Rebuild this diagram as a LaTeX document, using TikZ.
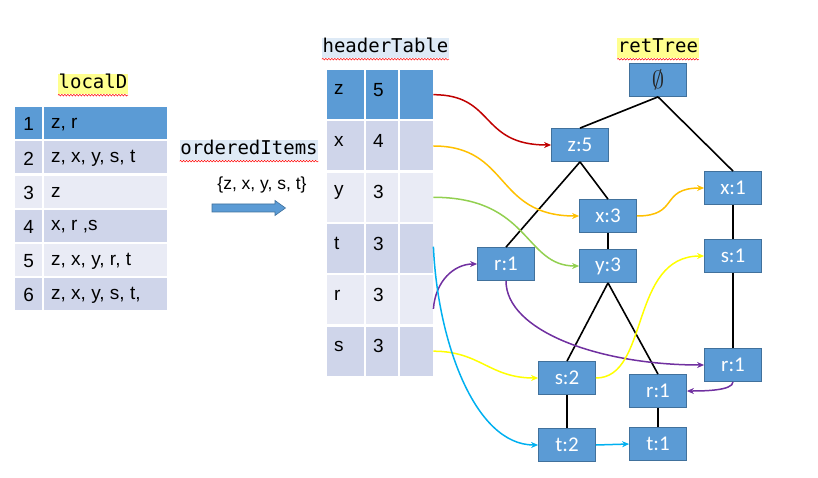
\documentclass[tikz,border=0pt]{standalone}
\usepackage{fontspec}
\setmainfont{Liberation Sans}
\newfontfamily\nodefont{Carlito}
\newfontfamily\monofont{DejaVu Sans Mono}
\usetikzlibrary{arrows.meta,calc,decorations.pathmorphing}
\definecolor{accent}{HTML}{5B9BD5}
\definecolor{bordr}{HTML}{41719C}
\definecolor{banddark}{HTML}{CFD5EA}
\definecolor{bandlight}{HTML}{E9EBF5}
\definecolor{hlyellow}{HTML}{FFFF8F}
\definecolor{hlblue}{HTML}{DEEAF6}
\definecolor{cred}{HTML}{C00000}
\definecolor{corange}{HTML}{FFC000}
\definecolor{cgreen}{HTML}{92D050}
\definecolor{cpurple}{HTML}{7030A0}
\definecolor{cyellow}{HTML}{FFFF00}
\definecolor{cblue}{HTML}{00B0F0}
\tikzset{
  tnode/.style={draw=bordr, fill=accent, minimum width=57pt, minimum height=33pt, inner sep=0pt,
    text=white, font=\nodefont\fontsize{21}{23}\selectfont, line width=0.8pt},
  cellbox/.style={anchor=north west, inner sep=0pt, draw=none},
  celltext/.style={font=\fontsize{19}{21}\selectfont, inner sep=0pt, text=black},
  lbl/.style={font=\monofont\fontsize{19}{21}\selectfont, inner xsep=0.5pt, inner ysep=0pt,
    text height=15pt, text depth=5pt},
  wavy/.style={draw=red, line width=0.5pt, decorate, decoration={snake, amplitude=0.8pt, segment length=3pt}},
  treeline/.style={line width=1.6pt, black},
  carrow/.style={line width=1.5pt, -{Stealth[length=7pt,width=6pt]}},
}
\begin{document}
\begin{tikzpicture}[x=1pt,y=-1pt]
\useasboundingbox (0,0) rectangle (818,478);
% ---------- localD ----------
\node[lbl, fill=hlyellow] (lblLocal) at (93,84) {localD};
\draw[wavy] ([yshift=-1pt]lblLocal.south west) -- ([yshift=-1pt]lblLocal.south east);
\foreach \i/\txt/\col in {1/{z, r}/accent, 2/{z, x, y, s, t}/banddark, 3/{z}/bandlight,
    4/{x, r ,s}/banddark, 5/{z, x, y, r, t}/bandlight, 6/{z, x, y, s, t,}/banddark}{
  \pgfmathsetmacro\rowy{107+34.2*(\i-1)}
  \node[cellbox, fill=\col, minimum width=27pt, minimum height=32pt] (LA\i) at (15,\rowy) {};
  \node[cellbox, fill=\col, minimum width=123pt, minimum height=32pt] (LB\i) at (44,\rowy) {};
  \node[celltext] at ([yshift=-1pt]LA\i.center) {\i};
  \node[celltext, anchor=west] at ([xshift=7pt,yshift=-1pt]LB\i.west) {\txt};
}
% ---------- orderedItems ----------
\node[lbl, fill=hlblue] (lblOrd) at (249,150) {orderedItems};
\draw[wavy] ([yshift=-1pt]lblOrd.south west) -- ([yshift=-1pt]lblOrd.south east);
\node[font=\fontsize{17.5}{20}\selectfont, inner sep=0pt] (ordset) at (262,185) {\{z, x, y, s, t\}};
\fill[accent, draw=bordr, line width=0.6pt] (212,204) -- (275,204) -- (275,200.5) -- (285.5,208)
  -- (275,215.5) -- (275,212) -- (212,212) -- cycle;
% ---------- headerTable ----------
\node[lbl, fill=hlblue] (lblHead) at (385.5,48) {headerTable};
\draw[wavy] ([yshift=-1pt]lblHead.south west) -- ([yshift=-1pt]lblHead.south east);
\foreach \i/\itm/\cnt/\col in {1/z/5/accent, 2/x/4/banddark, 3/y/3/bandlight,
    4/t/3/banddark, 5/r/3/bandlight, 6/s/3/banddark}{
  \pgfmathsetmacro\rowy{70+51.3*(\i-1)}
  \node[cellbox, fill=\col, minimum width=37pt, minimum height=49pt] (HA\i) at (327,\rowy) {};
  \node[cellbox, fill=\col, minimum width=32pt, minimum height=49pt] (HB\i) at (366,\rowy) {};
  \node[cellbox, fill=\col, minimum width=33pt, minimum height=49pt] (H\i) at (400,\rowy) {};
  \node[celltext, anchor=west] at ([xshift=7pt,yshift=5pt]HA\i.west) {\itm};
  \node[celltext, anchor=west] at ([xshift=7pt,yshift=5pt]HB\i.west) {\cnt};
}
% ---------- retTree ----------
\node[lbl, fill=hlyellow] (lblTree) at (658,48) {retTree};
\draw[wavy] ([yshift=-1pt]lblTree.south west) -- ([yshift=-1pt]lblTree.south east);
\node[tnode, text=black!85, font=\fontsize{24}{26}\selectfont] (root) at (658,80) {$\emptyset$};
\node[tnode] (z5) at (580,145) {z:5};
\node[tnode] (x1) at (733,188) {x:1};
\node[tnode] (x3) at (608,216) {x:3};
\node[tnode] (r1L) at (506,264) {r:1};
\node[tnode] (y3) at (608,266) {y:3};
\node[tnode] (s1) at (733,256) {s:1};
\node[tnode] (r1R) at (733,365) {r:1};
\node[tnode] (s2) at (567,378) {s:2};
\node[tnode] (r1M) at (658,391) {r:1};
\node[tnode] (t2) at (567,445) {t:2};
\node[tnode] (t1) at (658,444) {t:1};
% tree edges
\draw[treeline] (root.south) -- (z5.north);
\draw[treeline] (root.south) -- (x1.north);
\draw[treeline] (z5.south) -- (x3.north);
\draw[treeline] (z5.south) -- (r1L.north);
\draw[treeline] (x3.south) -- (y3.north);
\draw[treeline] (y3.south) -- (s2.north);
\draw[treeline] (y3.south) -- (r1M.north);
\draw[treeline] (x1.south) -- (s1.north);
\draw[treeline] (s1.south) -- (r1R.north);
\draw[treeline] (s2.south) -- (t2.north);
\draw[treeline] (r1M.south) -- (t1.north);
% ---------- link arrows ----------
\draw[carrow, cred] (H1.east) .. controls ($(H1.east)+(62,0)$) and ($(z5.west)+(-72,0)$) .. (z5.west);
\draw[carrow, corange] (H2.east) .. controls ($(H2.east)+(77,0)$) and ($(x3.west)+(-85,0)$) .. (x3.west);
\draw[carrow, corange] (x3.east) .. controls ($(x3.east)+(43,0)$) and ($(x1.west)+(-45,0)$) .. (x1.west);
\draw[carrow, cgreen] (H3.east) .. controls ($(H3.east)+(97,0)$) and ($(y3.west)+(-55,0)$) .. (y3.west);
\draw[carrow, cpurple] ([yshift=-9pt]H5.east) .. controls ($(H5.east)+(2,-19)$) and ($(r1L.west)+(-23,0)$) .. (r1L.west);
\draw[carrow, cpurple] (r1L.south) .. controls ($(r1L.south)+(0,50)$) and ($(r1R.west)+(-105,0)$) .. (r1R.west);
\draw[carrow, cpurple] (r1R.south) .. controls ($(r1R.south)+(0,9)$) and ($(r1M.east)+(15,0)$) .. (r1M.east);
\draw[carrow, cyellow] (H6.east) .. controls ($(H6.east)+(47,0)$) and ($(s2.west)+(-49,0)$) .. (s2.west);
\draw[carrow, cyellow] (s2.east) .. controls ($(s2.east)+(54,0)$) and ($(s1.west)+(-75,0)$) .. (s1.west);
\draw[carrow, cblue] ([yshift=2pt]H4.east) .. controls ($(H4.east)+(4,91)$) and ($(t2.west)+(-64,0)$) .. (t2.west);
\draw[carrow, cblue] (t2.east) -- (t1.west);
\end{tikzpicture}
\end{document}
